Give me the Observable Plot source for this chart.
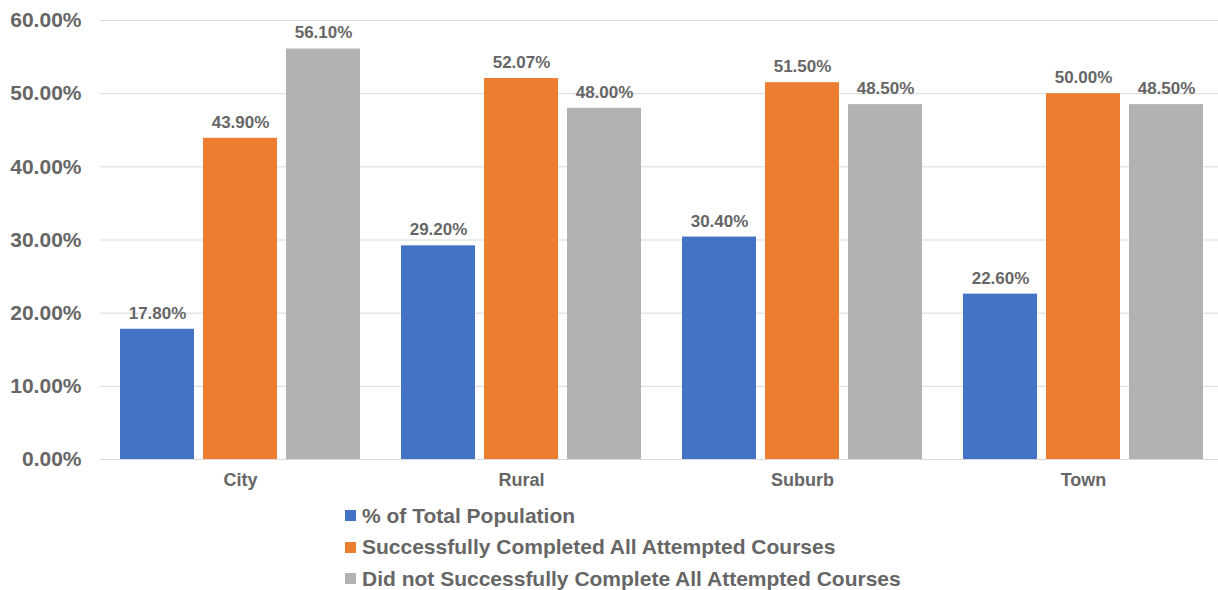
<!DOCTYPE html>
<html>
<head>
<meta charset="utf-8">
<script src="https://cdn.jsdelivr.net/npm/d3@7"></script>
<script src="https://cdn.jsdelivr.net/npm/@observablehq/plot@0.6"></script>
<style>
  body { margin: 0; background: #fff; font-family: "Liberation Sans", Arial, sans-serif; overflow: hidden; }
  #chart { width: 1218px; height: 500px; overflow: hidden; }
  #chart svg { max-width: none !important; }
  #legend { margin-left: 345px; }
  .row { height: 31.5px; display: flex; align-items: center; font-size: 21px; font-weight: bold; color: #666; white-space: nowrap; }
  .sw { width: 11px; height: 11px; margin-right: 6px; flex: none; }
</style>
</head>
<body>
<div id="chart"></div>
<div id="legend"></div>
<script>
const categories = ["City", "Rural", "Suburb", "Town"];
const seriesNames = [
  "% of Total Population",
  "Successfully Completed All Attempted Courses",
  "Did not Successfully Complete All Attempted Courses"
];
const totalPopulation = [17.8, 29.2, 30.4, 22.6];
const completedAll = [43.9, 52.07, 51.5, 50.0];
const notCompletedAll = [56.1, 48.0, 48.5, 48.5];
const yTicks = [0, 10, 20, 30, 40, 50, 60];
const colors = ["#4472C4", "#ED7D31", "#B1B2B4"];

const seriesValues = [totalPopulation, completedAll, notCompletedAll];
const data = [];
categories.forEach((c, i) => {
  seriesNames.forEach((s, j) => data.push({cat: c, series: s, value: seriesValues[j][i]}));
});

const fmt = d => d.toFixed(2) + "%";

const chart = Plot.plot({
  width: 1224,
  height: 500,
  marginTop: 20,
  marginBottom: 41,
  marginLeft: 100,
  marginRight: 0,
  style: {fontFamily: "'Liberation Sans', Arial, sans-serif", background: "#fff", maxWidth: "none"},
  fx: {domain: categories, paddingInner: 0.145, paddingOuter: 0.0725, label: null},
  x: {domain: seriesNames, paddingInner: 0.11, paddingOuter: 0, axis: null},
  y: {domain: [0, 60], label: null},
  color: {domain: seriesNames, range: colors},
  marks: [
    Plot.ruleY(yTicks, {stroke: "#d9d9d9", strokeWidth: 1, insetLeft: -20.4, insetRight: -20.4}),
    Plot.barY(data, {fx: "cat", x: "series", y: "value", fill: "series"}),
    Plot.text(data, {fx: "cat", x: "series", y: "value", text: d => fmt(d.value), dy: -16, lineAnchor: "middle", fontSize: 17, fontWeight: "bold", fill: "#666"}),
    Plot.axisY({ticks: yTicks, tickFormat: fmt, tickSize: 0, tickPadding: 39, fontSize: 21, fontWeight: "bold", color: "#666", label: null}),
    Plot.axisFx({anchor: "bottom", tickSize: 0, tickPadding: 14, fontSize: 18, fontWeight: "bold", color: "#666", label: null})
  ]
});
document.getElementById("chart").appendChild(chart);

const legend = document.getElementById("legend");
seriesNames.forEach((s, j) => {
  const row = document.createElement("div");
  row.className = "row";
  const sw = document.createElement("span");
  sw.className = "sw";
  sw.style.background = colors[j];
  const t = document.createElement("span");
  t.textContent = s;
  row.appendChild(sw);
  row.appendChild(t);
  legend.appendChild(row);
});
</script>
</body>
</html>
